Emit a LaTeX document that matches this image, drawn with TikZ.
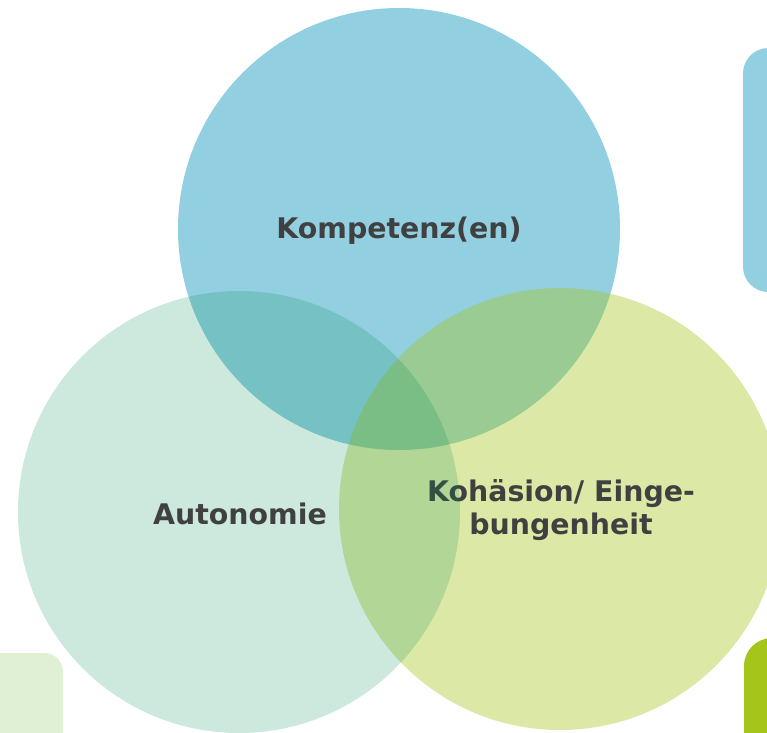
\documentclass[tikz,border=0pt]{standalone}
\usepackage{fontspec}
\setmainfont{DejaVu Sans}
\definecolor{kblau}{HTML}{4BACC6}
\definecolor{kgruen}{HTML}{058C50}
\definecolor{kgelb}{HTML}{A5C51A}
\definecolor{khell}{HTML}{DFF0D4}
\definecolor{kkreis}{HTML}{92CFE1}
\definecolor{ktext}{HTML}{404040}
\tikzset{kreis/.style={draw=none},
  etikett/.style={text=ktext,font=\bfseries\fontsize{21.3}{25}\selectfont,align=center}}
\begin{document}
\begin{tikzpicture}[x=0.75pt,y=-0.75pt]
  \useasboundingbox (0,0) rectangle (767,732);
  % Randstuecke der Nachbarfolien
  \fill[kkreis,rounded corners=19pt] (743,48) rectangle (820,292);
  \fill[khell,rounded corners=14pt] (-30,653) rectangle (63,770);
  \fill[kgelb,rounded corners=21pt] (744,638) rectangle (820,770);
  % drei Kreise, Reihenfolge wie im Original
  \fill[kreis,kkreis] (399,229) circle (221);
  \node[etikett] (komp) at (399,231) {Kompetenz(en)};
  \fill[kreis,kgelb,fill opacity=0.39] (560,509) circle (221);
  \node[etikett] (kohae) at (561,510) {Kohäsion/ Einge-\\bungenheit};
  \fill[kreis,kgruen,fill opacity=0.2] (239,512) circle (221);
  \node[etikett] (auto) at (240,514) {Autonomie};
\end{tikzpicture}
\end{document}
